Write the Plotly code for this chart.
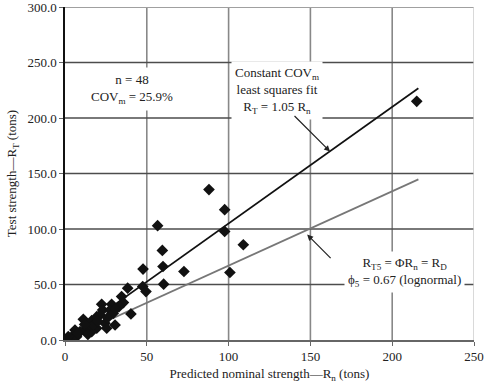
import plotly.graph_objects as go

# Predicted nominal strength Rn (tons) and test strength RT (tons)
rn = [215, 88, 97.6, 56.6, 97.6, 109, 59.5, 47.7, 59.9, 72.7, 100.8, 38.3, 47.5, 60.3, 49.5, 34.6,
      35.7, 40.3, 30.6, 22.4, 28.5, 23, 27.5, 29.5, 11.2, 16.3, 19.4, 21.4, 24.4, 19.4, 16.3, 13.3,
      9.2, 6.1, 5.1, 3, 7.1, 25.5, 17.3, 1, 33, 26, 14, 2, 8, 31, 20, 12]
rt = [215, 135.5, 117.4, 103, 97.8, 85.8, 80.7, 63.9, 66.2, 61.7, 60.8, 46.7, 48.2, 50.3, 43.6, 39.1,
      33.7, 23.5, 13.5, 32.2, 32.2, 27.1, 27, 24, 18.6, 17.4, 21, 22.6, 15, 10.6, 7.5, 10.6,
      7.5, 9, 4.5, 1.5, 3, 10.6, 13.5, 1, 30, 20, 5, 3, 6, 28, 17, 14]

fit_x = [0, 216]
fit_slope = 1.05
design_slope = 0.67
x_ticks = [0, 50, 100, 150, 200, 250]
y_ticks = [0, 50, 100, 150, 200, 250, 300]

FONT = "Liberation Serif"

fig = go.Figure()

# vertical grid lines (lighter) and horizontal grid lines (darker) as shapes below data
for xv in x_ticks[1:-1]:
    fig.add_shape(type="line", xref="x", yref="y", x0=xv, x1=xv, y0=0, y1=300,
                  line=dict(color="#888888", width=1.6), layer="below")
for yv in y_ticks[1:-1]:
    fig.add_shape(type="line", xref="x", yref="y", x0=0, x1=250, y0=yv, y1=yv,
                  line=dict(color="#4d4d4d", width=1.6), layer="below")
# frame top / right
fig.add_shape(type="line", xref="x", yref="y", x0=0, x1=250, y0=300, y1=300,
              line=dict(color="#a0a0a0", width=2), layer="below")
fig.add_shape(type="line", xref="x", yref="y", x0=250, x1=250, y0=0, y1=300,
              line=dict(color="#cccccc", width=1.5), layer="below")

fig.add_trace(go.Scatter(x=fit_x, y=[v * design_slope for v in fit_x], mode="lines",
                         line=dict(color="#777777", width=1.7), hoverinfo="skip"))
fig.add_trace(go.Scatter(x=fit_x, y=[v * fit_slope for v in fit_x], mode="lines",
                         line=dict(color="#111111", width=1.7), hoverinfo="skip"))
fig.add_trace(go.Scatter(x=rn, y=rt, mode="markers",
                         marker=dict(symbol="diamond", size=9, color="#111111")))

tf = dict(family=FONT, size=13, color="#222222")

fig.add_annotation(x=41, y=226, xref="x", yref="y", showarrow=False,
                   text="n = 48<br>COV<sub>m</sub> = 25.9%", font=tf,
                   bgcolor="white", borderpad=4, align="center")
fig.add_annotation(x=129.6, y=224.5, xref="x", yref="y", showarrow=False,
                   text="Constant COV<sub>m</sub><br>least squares fit<br>R<sub>T</sub> = 1.05 R<sub>n</sub>",
                   font=tf, bgcolor="white", borderpad=3, align="center")
fig.add_annotation(x=207.8, y=61, xref="x", yref="y", showarrow=False,
                   text="R<sub>T5</sub> = ΦR<sub>n</sub> = R<sub>D</sub><br>ϕ<sub>5</sub> = 0.67 (lognormal)",
                   font=tf, bgcolor="white", borderpad=3, align="center")

# arrows
fig.add_annotation(x=162, y=169.8, xref="x", yref="y", ax=-37, ay=-37, text="",
                   showarrow=True, arrowhead=2, arrowsize=1, arrowwidth=1.2, arrowcolor="#222222")
fig.add_annotation(x=148, y=95, xref="x", yref="y", ax=25, ay=25, text="",
                   showarrow=True, arrowhead=2, arrowsize=1, arrowwidth=1.2, arrowcolor="#222222")

fig.update_layout(
    width=493, height=383,
    margin=dict(l=65, r=19, t=7, b=43, autoexpand=False),
    paper_bgcolor="white", plot_bgcolor="white",
    showlegend=False,
    font=dict(family=FONT, size=13, color="#222222"),
    xaxis=dict(range=[0, 250], tickvals=x_ticks, ticktext=[str(v) for v in x_ticks],
               showgrid=False, zeroline=False, showline=True, linecolor="#666666", linewidth=1.5,
               ticks="outside", ticklen=4, tickcolor="#666666", ticklabeloverflow="allow",
               title=dict(text="Predicted nominal strength—R<sub>n</sub> (tons)", standoff=6,
                          font=dict(family=FONT, size=13))),
    yaxis=dict(range=[0, 300], tickvals=y_ticks, ticktext=[f"{v:.1f}" for v in y_ticks],
               showgrid=False, zeroline=False, showline=True, linecolor="#111111", linewidth=1.5,
               ticks="outside", ticklen=4, tickcolor="#666666", ticklabeloverflow="allow",
               title=dict(text="Test strength—R<sub>T</sub> (tons)", standoff=8,
                          font=dict(family=FONT, size=13))),
)

fig.write_html("out.html", config={"displayModeBar": False},
               post_script="document.body.style.margin='0';document.body.style.padding='0';")
